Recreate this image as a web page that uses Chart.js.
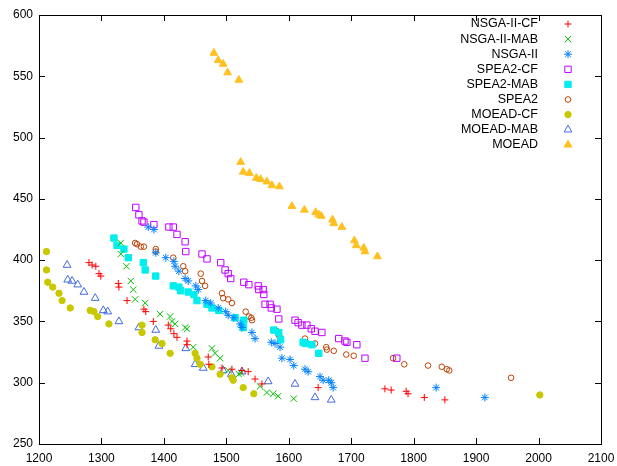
<!DOCTYPE html>
<html>
<head>
<meta charset="utf-8">
<script src="https://cdn.jsdelivr.net/npm/chart.js@4.4.0/dist/chart.umd.min.js"></script>
<style>
  body { margin: 0; background: #fff; }
  canvas { display: block; }
</style>
</head>
<body>
<canvas id="chart" width="617" height="466"></canvas>
<script>
// axis ticks
const xTicks = [1200, 1300, 1400, 1500, 1600, 1700, 1800, 1900, 2000, 2100];
const yTicks = [250, 300, 350, 400, 450, 500, 550, 600];

// series, [x, y]
const nsga2Cf = [[1280,398],[1285,396],[1291,395],[1296,389],[1299,387],[1327,381],[1328,378],[1341,367],
  [1368,360],[1371,358],[1383,350],[1407,347],[1411,344],[1416,340],[1421,337],[1437,334],[1437,331],
  [1471,321],[1472,315],[1493,312],[1509,311],[1525,310],[1535,309],[1546,303],[1557,299],[1647,296],
  [1754,295],[1764,294],[1788,293],[1791,291],[1817,288],[1850,286]];
const nsga2Mab = [[1331,414],[1331,405],[1340,395],[1347,383],[1351,376],[1354,368],[1370,365],[1394,356],
  [1410,354],[1413,350],[1418,348],[1434,345],[1437,344],[1447,329],[1477,328],[1482,324],[1490,320],
  [1503,310],[1520,307],[1524,308],[1554,297],[1565,292],[1575,291],[1583,289],[1608,287]];
const nsga2 = [[1375,427],[1384,425],[1387,406],[1403,402],[1416,399],[1418,395],[1424,391],[1434,385],
  [1439,383],[1451,379],[1455,376],[1467,367],[1475,365],[1487,361],[1499,358],[1503,355],[1512,353],
  [1522,348],[1525,345],[1541,341],[1546,336],[1572,333],[1578,332],[1586,329],[1589,320],[1602,319],
  [1608,314],[1626,311],[1631,309],[1650,305],[1655,302],[1664,302],[1668,300],[1671,296],[1836,296],
  [1914,288]];
const spea2Cf = [[1355,443],[1360,437],[1365,432],[1368,431],[1384,429],[1408,427],[1415,427],[1421,421],
  [1434,415],[1435,407],[1461,405],[1469,401],[1491,398],[1498,392],[1503,389],[1507,385],[1528,382],
  [1536,380],[1551,379],[1552,376],[1559,376],[1560,372],[1562,364],[1570,364],[1572,361],[1581,360],
  [1584,352],[1610,351],[1615,349],[1621,347],[1629,347],[1636,344],[1642,342],[1653,341],[1680,336],
  [1690,334],[1693,333],[1709,331],[1722,320],[1773,320]];
const spea2Mab = [[1320,418],[1325,412],[1336,409],[1343,402],[1367,398],[1370,392],[1387,387],[1415,379],
  [1424,378],[1427,375],[1439,374],[1448,372],[1453,367],[1469,364],[1477,361],[1488,359],[1514,353],
  [1527,345],[1528,351],[1576,343],[1584,341],[1587,335],[1623,333],[1627,332],[1637,331],[1648,324]];
const spea2 = [[1354,414],[1357,413],[1363,411],[1368,411],[1387,409],[1387,407],[1415,402],[1431,395],
  [1434,391],[1459,389],[1461,383],[1466,379],[1493,373],[1495,369],[1503,368],[1509,365],[1531,358],
  [1536,354],[1540,353],[1541,351],[1581,342],[1584,339],[1586,337],[1626,336],[1642,332],[1660,329],
  [1661,327],[1672,326],[1692,323],[1704,322],[1767,320],[1785,315],[1823,314],[1845,313],[1853,311],
  [1857,310],[1956,304]];
const moeadCf = [[1212,407],[1212,392],[1214,382],[1222,378],[1232,373],[1237,367],[1250,361],[1282,359],
  [1288,358],[1294,354],[1312,348],[1365,347],[1365,341],[1386,335],[1397,332],[1410,324],[1450,324],
  [1453,320],[1458,315],[1477,313],[1490,307],[1509,304],[1511,302],[1527,296],[1544,291],[2002,290]];
const moeadMab = [[1245,396],[1246,384],[1253,383],[1262,380],[1272,374],[1290,369],[1303,359],[1310,358],
  [1328,350],[1360,345],[1387,343],[1392,330],[1435,328],[1450,315],[1463,312],[1495,310],[1508,307],
  [1525,309],[1567,301],[1610,299],[1642,288],[1668,286]];
const moead = [[1480,569],[1487,563],[1495,560],[1502,553],[1520,547],[1523,480],[1527,472],[1537,471],
  [1548,467],[1555,466],[1565,464],[1573,461],[1585,460],[1605,444],[1625,441],[1643,439],[1648,437],
  [1652,436],[1670,433],[1672,430],[1685,427],[1705,416],[1708,412],[1720,410],[1722,407],[1742,403]];

function toPoints(arr) {
  return arr.map(p => ({ x: p[0], y: p[1] }));
}

function series(label, data, color, style, radius, filled) {
  return {
    label: label,
    data: toPoints(data),
    pointStyle: style,
    pointRadius: radius,
    borderColor: color,
    backgroundColor: filled ? color : 'rgba(0,0,0,0)',
    borderWidth: 1,
    showLine: false
  };
}

const datasets = [
  series('NSGA-II-CF', nsga2Cf, '#ff0000', 'cross', 3.5, false),
  series('NSGA-II-MAB', nsga2Mab, '#00c000', 'crossRot', 4.5, false),
  series('NSGA-II', nsga2, '#0080ff', 'star', 4, false),
  series('SPEA2-CF', spea2Cf, '#c000ff', 'rect', 4.5, false),
  series('SPEA2-MAB', spea2Mab, '#00eeee', 'rect', 4.5, true),
  series('SPEA2', spea2, '#c04000', 'circle', 2.8, false),
  series('MOEAD-CF', moeadCf, '#c8c800', 'circle', 3.2, true),
  series('MOEAD-MAB', moeadMab, '#4169e1', 'triangle', 4.5, false),
  series('MOEAD', moead, '#ffc020', 'triangle', 4.5, true)
];

// box, inward ticks on all sides and the key, gnuplot style
const gnuplotFrame = {
  id: 'gnuplotFrame',
  afterDraw(chart) {
    const ctx = chart.ctx;
    const a = chart.chartArea;
    const xs = chart.scales.x, ys = chart.scales.y;
    const len = 6;
    ctx.save();
    ctx.strokeStyle = '#000';
    ctx.lineWidth = 1;
    ctx.beginPath();
    xs.ticks.forEach(t => {
      const px = Math.round(xs.getPixelForValue(t.value)) + 0.5;
      ctx.moveTo(px, a.bottom); ctx.lineTo(px, a.bottom - len);
      ctx.moveTo(px, a.top); ctx.lineTo(px, a.top + len);
    });
    ys.ticks.forEach(t => {
      const py = Math.round(ys.getPixelForValue(t.value)) + 0.5;
      ctx.moveTo(a.left, py); ctx.lineTo(a.left + len, py);
      ctx.moveTo(a.right, py); ctx.lineTo(a.right - len, py);
    });
    ctx.stroke();
    ctx.strokeRect(Math.round(a.left) + 0.5, Math.round(a.top) + 0.5,
      Math.round(a.right - a.left), Math.round(a.bottom - a.top));

    // key
    ctx.font = '12.5px "Liberation Sans", Arial, sans-serif';
    ctx.textAlign = 'right';
    ctx.textBaseline = 'middle';
    chart.data.datasets.forEach((ds, i) => {
      const y = 24 + i * 15.1;
      ctx.fillStyle = '#000';
      ctx.fillText(ds.label, 538, y);
      ctx.fillStyle = ds.backgroundColor;
      ctx.strokeStyle = ds.borderColor;
      ctx.lineWidth = ds.borderWidth;
      Chart.helpers.drawPoint(ctx, {
        pointStyle: ds.pointStyle,
        radius: ds.pointRadius,
        rotation: 0,
        borderWidth: ds.borderWidth
      }, 568, y);
    });
    ctx.restore();
  }
};

Chart.defaults.font.family = '"Liberation Sans", Arial, sans-serif';
Chart.defaults.font.size = 12;
Chart.defaults.color = '#000';

const ctx = document.getElementById('chart').getContext('2d');
const chart = new Chart(ctx, {
  type: 'scatter',
  data: { datasets: datasets },
  options: {
    responsive: false,
    animation: false,
    layout: { padding: { top: 15, right: 16, left: 0, bottom: 0 } },
    plugins: {
      legend: { display: false },
      tooltip: { enabled: false }
    },
    scales: {
      x: {
        type: 'linear',
        min: 1200,
        max: 2100,
        afterBuildTicks: scale => { scale.ticks = xTicks.map(v => ({ value: v })); },
        afterFit: scale => {
          scale.height = 22;
          scale.paddingLeft = 0;
          scale.paddingRight = 0;
        },
        grid: { display: false, drawTicks: false },
        border: { display: false },
        ticks: { padding: 7, maxRotation: 0, autoSkip: false, callback: v => String(v) }
      },
      y: {
        type: 'linear',
        min: 250,
        max: 600,
        afterBuildTicks: scale => { scale.ticks = yTicks.map(v => ({ value: v })); },
        afterFit: scale => {
          scale.width = 39;
          scale.paddingTop = 0;
          scale.paddingBottom = 0;
        },
        grid: { display: false, drawTicks: false },
        border: { display: false },
        ticks: { padding: 6, autoSkip: false, callback: v => String(v) }
      }
    }
  },
  plugins: [gnuplotFrame]
});
</script>
</body>
</html>
